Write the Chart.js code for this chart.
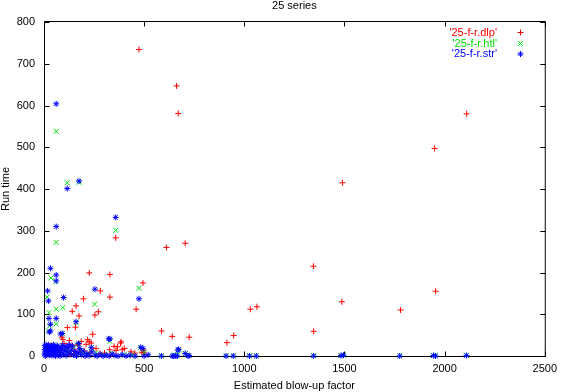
<!DOCTYPE html>
<html><head><meta charset="utf-8">
<script src="https://cdn.jsdelivr.net/npm/chart.js@4"></script>
<style>html,body{margin:0;padding:0;background:#fff}</style>
</head><body>
<canvas id="c" width="563" height="392"></canvas>
<script>
const chartTitle = "25 series";
const xAxisTitle = "Estimated blow-up factor";
const yAxisTitle = "Run time";
const seriesNames = ["'25-f-r.dlp'", "'25-f-r.htl'", "'25-f-r.str'"];
const seriesColors = ["#ff0000", "#00dd00", "#0000ff"];
const xTicks = [0, 500, 1000, 1500, 2000, 2500];
const yTicks = [0, 100, 200, 300, 400, 500, 600, 700, 800];

const dlpX = [474,662,670,2110,1950,1490,358,705,611,1345,226,329,494,281,1955,329,197,1487,160,1063,460,1030,1780,141,271,254,175,157,117,587,1346,243,947,640,725,94,127,385,226,913,236,382,186,218,89,367,114,350,107,401,44,391,328,61,151,497,360,434,488,497,302,453,169,30,50,70,85,100,120,140,155,200,210,260,280,20,75,130,180,230];
const dlpY = [734,647,581,580,497,415,283,270,260,215,199,195,175,156,155,141,137,130,120,118,112,112,110,107,106,98,96,69,68,60,59,52,49,47,45,40,37,34,34,32,31,31,35,39,45,22,22,23,19,18,17,15,15,15,14,14,13,10,9,8,7,7,27,25,10,20,8,30,12,25,5,12,28,18,6,5,3,4,10,8];

const htlX = [61,175,116,358,61,35,58,474,15,253,94,61,25,160,61,28,22,91,329,483,672,236,5,12,20,30,40,48,55,68,80,95,110,125,145,170,190,215,260,300,340,400,440,500,586,648,719,909,945,1026,1060,1346,1483,1495,1776,1944,1955,2109,705,666];
const htlY = [538,416,415,301,272,187,178,162,141,124,116,112,104,80,77,72,60,54,35,20,14,20,10,25,15,5,20,8,25,12,22,6,18,10,20,28,10,5,8,3,6,4,2,8,1,2,1,1,1,1,1,1,1,2,1,1,2,2,6,3];

const strX = [61,116,175,358,61,32,61,61,18,254,98,474,22,25,61,160,32,32,27,83,91,329,323,172,494,483,236,668,672,705,586,648,666,719,725,909,945,1026,1060,1346,1483,1495,1776,1944,1955,2109,640,658,2,3,4,6,8,9,11,13,15,17,19,21,23,26,28,30,33,35,37,40,42,44,47,50,52,55,58,60,63,66,70,73,76,80,84,88,92,96,100,105,110,115,120,125,130,136,142,148,155,162,170,178,186,195,205,215,225,240,255,265,280,295,310,325,340,355,370,390,410,430,455,500,520];
const strY = [604,401,419,332,310,210,194,180,156,160,140,137,132,90,90,82,76,60,57,53,54,41,41,30,18,21,20,14,16,6,0,0,0,0,1,0,0,0,0,0,1,2,0,1,0,1,0,0,5,15,25,0,10,20,27,3,12,22,7,17,26,2,11,20,6,15,24,1,9,18,27,4,13,22,0,8,17,25,3,12,20,0,9,18,26,4,13,22,1,10,20,27,5,14,24,2,11,0,8,18,3,12,0,6,1,10,2,0,4,0,2,0,5,1,0,3,0,2,0,0,3];

const toPts = (xs, ys) => xs.map((x, i) => ({x: x, y: ys[i]}));
const FONT = "'Liberation Sans', Arial, sans-serif";

const framePlugin = {
  id: 'frame',
  beforeDatasetsDraw(chart) {
    const {ctx, chartArea: a, scales: {x, y}} = chart;
    ctx.save();
    ctx.strokeStyle = '#000';
    ctx.lineWidth = 1;
    const L = a.left + 0.5, R = a.right + 0.5, T = a.top - 0.5, B = a.bottom + 0.5;
    ctx.strokeRect(L, T, R - L, B - T);
    ctx.beginPath();
    const tl = 5;
    yTicks.forEach(v => {
      const p = Math.round(y.getPixelForValue(v)) + 0.5;
      ctx.moveTo(L, p); ctx.lineTo(L + tl, p);
      ctx.moveTo(R, p); ctx.lineTo(R - tl, p);
    });
    xTicks.forEach(v => {
      const p = Math.round(x.getPixelForValue(v)) + 0.5;
      ctx.moveTo(p, B); ctx.lineTo(p, B - tl);
      ctx.moveTo(p, T); ctx.lineTo(p, T + tl);
    });
    ctx.stroke();
    ctx.restore();
  },
  afterDraw(chart) {
    const {ctx, chartArea: a} = chart;
    ctx.save();
    ctx.font = '11px ' + FONT;
    ctx.fillStyle = '#000';
    ctx.textAlign = 'center';
    ctx.textBaseline = 'alphabetic';
    ctx.fillText(chartTitle, (a.left + a.right) / 2, 9);
    // key
    const rows = [32.5, 43.5, 54];
    const textRight = 497, mx = 520.5;
    ctx.textAlign = 'right';
    ctx.textBaseline = 'middle';
    ctx.lineWidth = 1;
    seriesNames.forEach((name, i) => {
      ctx.fillStyle = seriesColors[i];
      ctx.strokeStyle = seriesColors[i];
      ctx.fillText(name, textRight, rows[i]);
      const cy = rows[i];
      ctx.beginPath();
      if (i === 0 || i === 2) {
        ctx.moveTo(mx - 3, cy); ctx.lineTo(mx + 3, cy);
        ctx.moveTo(mx, cy - 3); ctx.lineTo(mx, cy + 3);
      }
      if (i === 1 || i === 2) {
        const d = i === 1 ? 2.5 : 2.1;
        ctx.moveTo(mx - d, cy - d); ctx.lineTo(mx + d, cy + d);
        ctx.moveTo(mx - d, cy + d); ctx.lineTo(mx + d, cy - d);
      }
      ctx.stroke();
    });
    ctx.restore();
  }
};

function ds(label, pts, color, style, r, order) {
  return {
    label: label, data: pts, showLine: false,
    pointStyle: style, pointRadius: r, pointHoverRadius: r,
    borderColor: color, backgroundColor: color, pointBorderWidth: 1,
    borderWidth: 1, clip: false, order: order
  };
}

new Chart(document.getElementById('c'), {
  type: 'scatter',
  data: {
    datasets: [
      ds(seriesNames[0], toPts(dlpX, dlpY), seriesColors[0], 'cross', 3, 3),
      ds(seriesNames[1], toPts(htlX, htlY), seriesColors[1], 'crossRot', 3.5, 2),
      ds(seriesNames[2], toPts(strX, strY), seriesColors[2], 'star', 3, 1)
    ]
  },
  options: {
    responsive: false,
    animation: false,
    devicePixelRatio: 1,
    events: [],
    layout: {padding: {top: 22, right: 14, left: 0, bottom: 0}},
    plugins: {legend: {display: false}, title: {display: false}, tooltip: {enabled: false}},
    scales: {
      x: {
        type: 'linear', min: 0, max: 2500,
        afterBuildTicks: s => { s.ticks = xTicks.map(v => ({value: v})); },
        afterFit: s => { s.height = 36; },
        grid: {display: false, drawTicks: false},
        border: {display: false},
        ticks: {color: '#000', font: {family: FONT, size: 11}, padding: 6, maxRotation: 0, autoSkip: false, callback: v => String(v)},
        title: {display: true, text: xAxisTitle, color: '#000', font: {family: FONT, size: 11, lineHeight: 1}, padding: {top: 0, bottom: 0.5}}
      },
      y: {
        type: 'linear', min: 0, max: 800,
        afterBuildTicks: s => { s.ticks = yTicks.map(v => ({value: v})); },
        afterFit: s => { s.width = 44; },
        grid: {display: false, drawTicks: false},
        border: {display: false},
        ticks: {color: '#000', font: {family: FONT, size: 11}, padding: 9, autoSkip: false, callback: v => String(v)},
        title: {display: true, text: yAxisTitle, color: '#000', font: {family: FONT, size: 11, lineHeight: 1}, padding: {top: 0, bottom: 0}}
      }
    }
  },
  plugins: [framePlugin]
});
</script>
</body></html>
